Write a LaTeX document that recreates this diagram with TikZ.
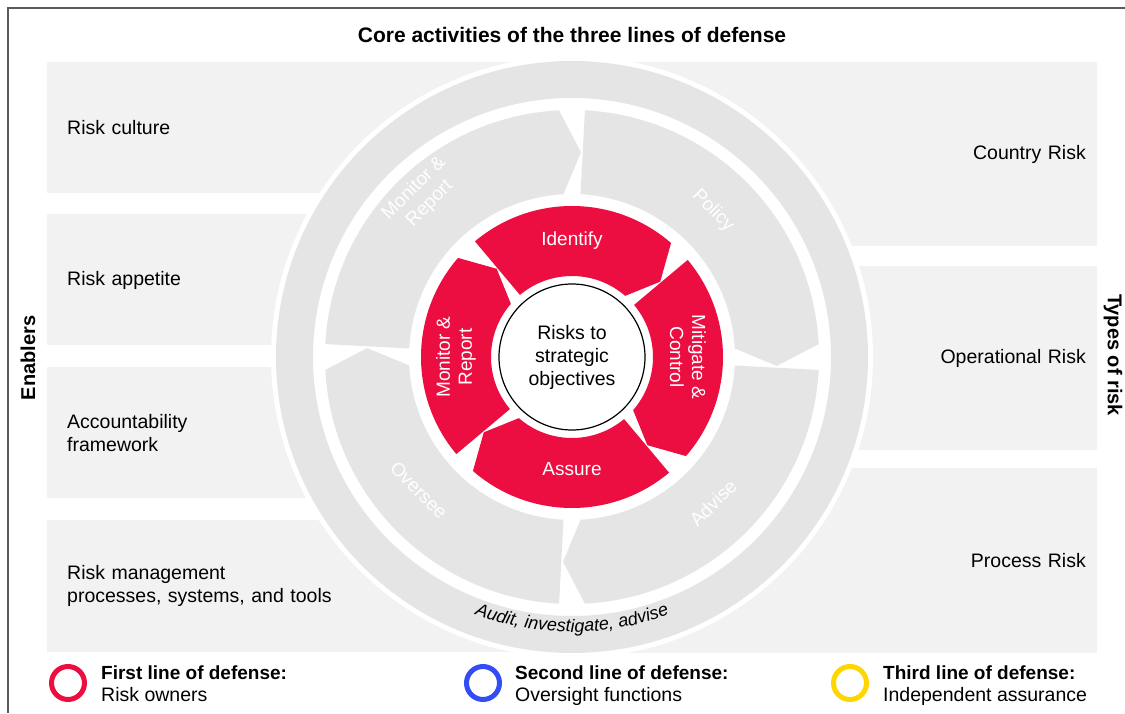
\documentclass[tikz,border=0pt]{standalone}
\usepackage{fontspec}
\setmainfont{Liberation Sans}
\usetikzlibrary{decorations.text}
\definecolor{firstred}{RGB}{236,14,64}
\definecolor{secondblue}{RGB}{52,76,245}
\definecolor{thirdyellow}{RGB}{255,214,0}
\definecolor{boxgray}{RGB}{242,242,242}
\definecolor{ringgray}{RGB}{229,229,229}
\definecolor{framegray}{RGB}{90,90,90}
\begin{document}
\begin{tikzpicture}[x=1pt, y=1pt]
    \useasboundingbox (0,0) rectangle (1125,713);
    \draw[framegray, line width=1.2pt] (8,0) -- (8,705) -- (1125,705);
    \node[font=\fontsize{21}{25}\selectfont\bfseries] (title) at (572,678) {Core activities of the three lines of defense};
    \node[font=\fontsize{20}{24}\selectfont\bfseries, rotate=90] (enablers) at (28,355) {Enablers};
    \node[font=\fontsize{20}{24}\selectfont\bfseries, rotate=-90] (types) at (1113,358) {Types of risk};

    \begin{scope}[every node/.style={fill=boxgray, anchor=west, minimum height=131pt, inner xsep=20pt, text width=486pt, align=left, font=\fontsize{19.5}{22.5}\selectfont}]
      \node (culture) at (47,585.5) {Risk culture};
      \node (appetite) at (47,433) {Risk appetite};
      \node (account) at (47,280) {Accountability\\framework};
      \node (process) at (47,127) {Risk management\\processes, systems, and tools};
    \end{scope}
    \begin{scope}[every node/.style={fill=boxgray, anchor=east, minimum height=184pt, inner xsep=11pt, text width=502pt, align=right, font=\fontsize{19.5}{22.5}\selectfont}]
      \node (country) at (1097,559) {Country Risk};
      \node (operational) at (1097,355) {Operational Risk};
      \node (processrisk) at (1097,152.5) {Process Risk};
    \end{scope}

    \fill[white] (572,356) circle[radius=301pt];
    \fill[ringgray, even odd rule] (572,356) circle[radius=296pt] circle[radius=259pt];

    \begin{scope}[shift={(572,356)}]
      \fill[ringgray] (177:247pt) arc[start angle=177, end angle=93, radius=247pt] -- (87.5:205pt) -- (93:163pt) arc[start angle=93, end angle=177, radius=163pt] -- cycle;
      \fill[ringgray] (87:247pt) arc[start angle=87, end angle=3, radius=247pt] -- (-2.5:205pt) -- (3:163pt) arc[start angle=3, end angle=87, radius=163pt] -- cycle;
      \fill[ringgray] (-3:247pt) arc[start angle=-3, end angle=-87, radius=247pt] -- (-92.5:205pt) -- (-87:163pt) arc[start angle=-87, end angle=-3, radius=163pt] -- cycle;
      \fill[ringgray] (-93:247pt) arc[start angle=-93, end angle=-177, radius=247pt] -- (-182.5:205pt) -- (-177:163pt) arc[start angle=-177, end angle=-93, radius=163pt] -- cycle;

      \fill[firstred] (130:151pt) arc[start angle=130, end angle=49, radius=151pt] -- (40.5:116pt) -- (49:81pt) arc[start angle=49, end angle=130, radius=81pt] -- cycle;
      \fill[firstred] (40:151pt) arc[start angle=40, end angle=-41, radius=151pt] -- (-49.5:116pt) -- (-41:81pt) arc[start angle=-41, end angle=40, radius=81pt] -- cycle;
      \fill[firstred] (-50:151pt) arc[start angle=-50, end angle=-131, radius=151pt] -- (-139.5:116pt) -- (-131:81pt) arc[start angle=-131, end angle=-50, radius=81pt] -- cycle;
      \fill[firstred] (220:151pt) arc[start angle=220, end angle=139, radius=151pt] -- (130.5:116pt) -- (139:81pt) arc[start angle=139, end angle=220, radius=81pt] -- cycle;

      \begin{scope}[every node/.style={text=white, align=center, font=\fontsize{19}{22}\selectfont}]
        \node[rotate=45] (monitorgray) at (133:220pt) {Monitor \&\\Report};
        \node[rotate=-45] (policy) at (46:203pt) {Policy};
        \node[rotate=45] (advise) at (-46:203pt) {Advise};
        \node[rotate=-45] (oversee) at (-139:203pt) {Oversee};
        \node (identify) at (90:116pt) {Identify};
        \node[rotate=-90] (mitigate) at (0:116pt) {Mitigate \&\\Control};
        \node (assure) at (-90:112pt) {Assure};
        \node[rotate=90] (monitorred) at (180:116pt) {Monitor \&\\Report};
      \end{scope}

      \node[circle, draw, line width=1.2pt, fill=white, minimum size=146pt, align=center, font=\fontsize{19.5}{23}\selectfont] (core) at (0,0) {Risks to\\strategic\\objectives};

      \path[decorate, decoration={text along path, text align=center, text={|\fontsize{18}{18}\selectfont\itshape|Audit, investigate, advise}}] (-114:275pt) arc[start angle=-114, end angle=-66, radius=275pt];
    \end{scope}

    \begin{scope}[every node/.style={circle, line width=5pt, minimum size=33pt}]
      \node[draw=firstred] (ringfirst) at (68,30) {};
      \node[draw=secondblue] (ringsecond) at (483,30) {};
      \node[draw=thirdyellow] (ringthird) at (850,30) {};
    \end{scope}
    \begin{scope}[every node/.style={anchor=base west, inner sep=0pt, font=\fontsize{19.5}{22}\selectfont}]
      \node[font=\fontsize{19}{22}\selectfont\bfseries] (firsthead) at (101,34) {First line of defense:};
      \node (firsttext) at (101,12) {Risk owners};
      \node[font=\fontsize{19}{22}\selectfont\bfseries] (secondhead) at (515,34) {Second line of defense:};
      \node (secondtext) at (515,12) {Oversight functions};
      \node[font=\fontsize{19}{22}\selectfont\bfseries] (thirdhead) at (883,34) {Third line of defense:};
      \node (thirdtext) at (883,12) {Independent assurance};
    \end{scope}
\end{tikzpicture}
\end{document}
